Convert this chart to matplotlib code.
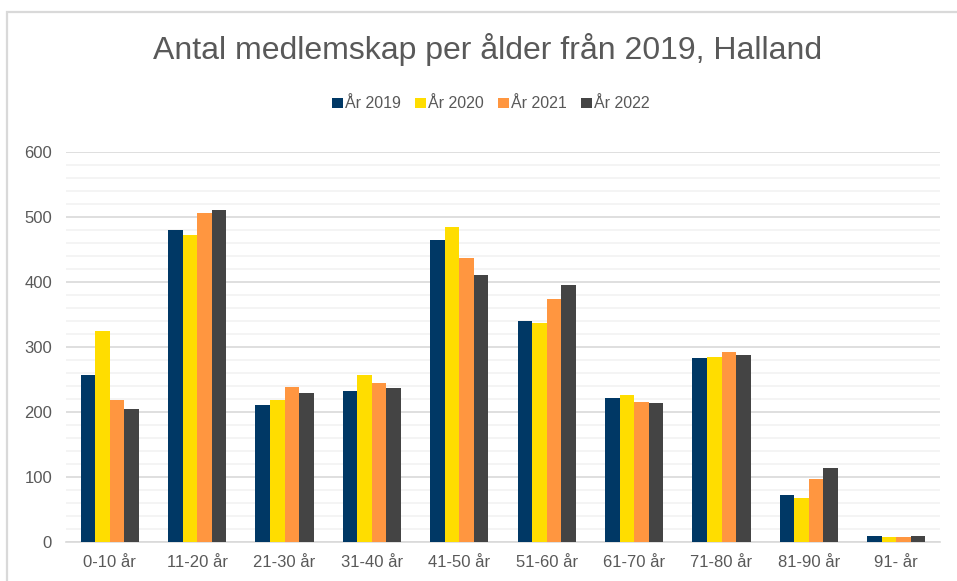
import numpy as np
import matplotlib.pyplot as plt
from matplotlib.patches import Rectangle

plt.rcParams['font.family'] = ['Liberation Sans', 'DejaVu Sans']

categories = ['0-10 år', '11-20 år', '21-30 år', '31-40 år', '41-50 år',
              '51-60 år', '61-70 år', '71-80 år', '81-90 år', '91- år']
series_names = ['År 2019', 'År 2020', 'År 2021', 'År 2022']
y2019 = [257, 480, 211, 233, 464, 340, 222, 283, 73, 9]
y2020 = [325, 472, 218, 257, 485, 337, 227, 285, 68, 8]
y2021 = [219, 506, 238, 245, 436, 374, 216, 293, 97, 8]
y2022 = [205, 511, 229, 237, 410, 396, 214, 287, 114, 9]
colors = ['#003865', '#FFDD00', '#FF9640', '#444444']

W, H = 957, 581
fig = plt.figure(figsize=(W / 100, H / 100), dpi=100)
ax = fig.add_axes([66 / W, 1 - 542.3 / H, (940 - 66) / W, (542.3 - 151.7) / H])

# chart frame (left and top edges visible in reference)
fig.add_artist(Rectangle((7.5 / W, -0.1), 1.2, 1 - 12.5 / H + 0.1,
                         transform=fig.transFigure, fill=False,
                         edgecolor='#D9D9D9', linewidth=1.6))

x = np.arange(len(categories))
bw = 0.1667
for i, (vals, name) in enumerate(zip([y2019, y2020, y2021, y2022], series_names)):
    ax.bar(x + (i - 1.5) * bw, vals, bw, color=colors[i], label=name, zorder=3)

ax.set_xlim(-0.5, len(categories) - 0.5)
ax.set_ylim(0, 600)
ax.set_yticks(np.arange(0, 601, 100))
ax.set_yticks(np.arange(0, 601, 20), minor=True)
ax.grid(axis='y', which='major', color='#D9D9D9', linewidth=1.2, zorder=0)
ax.grid(axis='y', which='minor', color='#F2F2F2', linewidth=1.2, zorder=0)
ax.set_xticks(x)
ax.set_xticklabels(categories)
ax.tick_params(axis='both', which='both', length=0, labelsize=12, colors='#595959')
ax.tick_params(axis='y', pad=10)
ax.tick_params(axis='x', pad=9)
for s in ['top', 'right', 'left']:
    ax.spines[s].set_visible(False)
ax.spines['bottom'].set_color('#D9D9D9')
ax.spines['bottom'].set_linewidth(1.2)

fig.text(488 / W, 1 - 50 / H, 'Antal medlemskap per ålder från 2019, Halland',
         ha='center', va='center', fontsize=23, color='#595959')

fig.legend(loc='center', bbox_to_anchor=(491 / W, 1 - 104 / H), ncol=4,
           frameon=False, fontsize=11.5, labelcolor='#595959',
           handlelength=0.65, handleheight=0.65, handletextpad=0.15,
           columnspacing=0.9)

fig.savefig('out.png', dpi=100, facecolor='white')
